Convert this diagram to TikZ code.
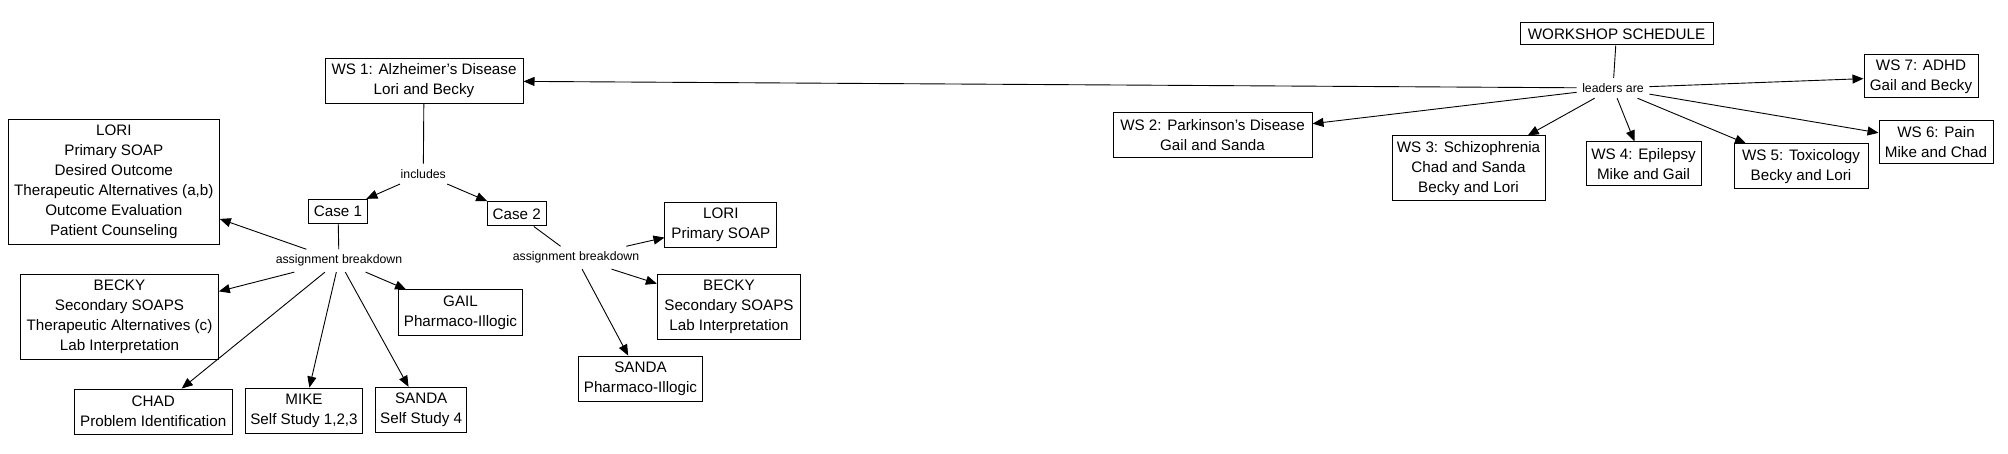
\documentclass[tikz,border=0pt]{standalone}
\usepackage{fontspec}
\setmainfont{Liberation Sans}
\usetikzlibrary{arrows.meta}
\begin{document}
\begin{tikzpicture}[x=1pt,y=-1pt,
  box/.style={draw,line width=1pt,inner sep=1pt,align=center,font=\fontsize{15.2}{20.1}\selectfont},
  lab/.style={inner sep=5.5pt,font=\fontsize{12.3}{13}\selectfont},
  link/.style={line width=0.9pt},
  arr/.style={line width=0.9pt,-{Triangle[length=11pt,width=9pt]}}]
\useasboundingbox (0,0) rectangle (2008,454);
\fill[white] (0,0) rectangle (2008,454);
% top right: workshop schedule
\node[box,minimum width=193,minimum height=22] (ws) at (1616.5,34) {WORKSHOP SCHEDULE};
\node[lab] (leaders) at (1613,88) {leaders are};
\node[box,minimum width=198,minimum height=45] (ws1) at (424,80.8) {WS 1: Alzheimer's Disease\\Lori and Becky};
\node[box,minimum width=199,minimum height=45] (ws2) at (1212.5,135.5) {WS 2: Parkinson's Disease\\Gail and Sanda};
\node[box,minimum width=153,minimum height=65] (ws3) at (1468.5,168.5) {WS 3: Schizophrenia\\Chad and Sanda\\Becky and Lori};
\node[box,minimum width=115,minimum height=44] (ws4) at (1643.5,164) {WS 4: Epilepsy\\Mike and Gail};
\node[box,minimum width=134,minimum height=45] (ws5) at (1801,166.5) {WS 5: Toxicology\\Becky and Lori};
\node[box,minimum width=114,minimum height=43] (ws6) at (1936,142.5) {WS 6: Pain\\Mike and Chad};
\node[box,minimum width=114,minimum height=43] (ws7) at (1921,76.5) {WS 7: ADHD\\Gail and Becky};
% WS1 breakdown
\node[lab] (includes) at (423.3,173.8) {includes};
\node[box,minimum width=59,minimum height=24] (case1) at (338,211.3) {Case 1};
\node[box,minimum width=58.7,minimum height=24.3] (case2) at (516.7,213.8) {Case 2};
\node[lab] (ab1) at (339,260.7) {assignment breakdown};
\node[lab] (ab2) at (576,257.7) {assignment breakdown};
\node[box,minimum width=211,minimum height=125] (lori1) at (113.8,181.8) {LORI\\Primary SOAP\\Desired Outcome\\Therapeutic Alternatives (a,b)\\Outcome Evaluation\\Patient Counseling};
\node[box,minimum width=197.7,minimum height=85.3] (becky1) at (119.5,316.7) {BECKY\\Secondary SOAPS\\Therapeutic Alternatives (c)\\Lab Interpretation};
\node[box,minimum width=124.3,minimum height=45.7] (gail1) at (460.5,312.8) {GAIL\\Pharmaco-Illogic};
\node[box,minimum width=158.3,minimum height=45.3] (chad1) at (153.2,411.7) {CHAD\\Problem Identification};
\node[box,minimum width=116.7,minimum height=45.3] (mike1) at (304,410.7) {MIKE\\Self Study 1,2,3};
\node[box,minimum width=91,minimum height=45] (sanda1) at (421.2,409.8) {SANDA\\Self Study 4};
\node[box,minimum width=111.7,minimum height=45] (lori2) at (720.8,224.8) {LORI\\Primary SOAP};
\node[box,minimum width=143.3,minimum height=65] (becky2) at (729,306.8) {BECKY\\Secondary SOAPS\\Lab Interpretation};
\node[box,minimum width=124.3,minimum height=45.3] (sanda2) at (640.5,378.7) {SANDA\\Pharmaco-Illogic};
% connectors
\draw[link] (ws) -- (leaders);
\draw[arr] (leaders) -- (ws1);
\draw[arr] (leaders) -- (ws2);
\draw[arr] (leaders) -- (ws3);
\draw[arr] (leaders) -- (ws4);
\draw[arr] (leaders) -- (ws5);
\draw[arr] (leaders) -- (ws6);
\draw[arr] (leaders) -- (ws7);
\draw[link] (ws1) -- (includes);
\draw[arr] (includes) -- (case1);
\draw[arr] (includes) -- (case2);
\draw[link] (case1) -- (ab1);
\draw[link] (case2) -- (ab2);
\draw[arr] (ab1) -- (lori1);
\draw[arr] (ab1) -- (becky1);
\draw[arr] (ab1) -- (gail1);
\draw[arr] (ab1) -- (chad1);
\draw[arr] (ab1) -- (mike1);
\draw[arr] (ab1) -- (sanda1);
\draw[arr] (ab2) -- (lori2);
\draw[arr] (ab2) -- (becky2);
\draw[arr] (ab2) -- (sanda2);
\end{tikzpicture}
\end{document}
